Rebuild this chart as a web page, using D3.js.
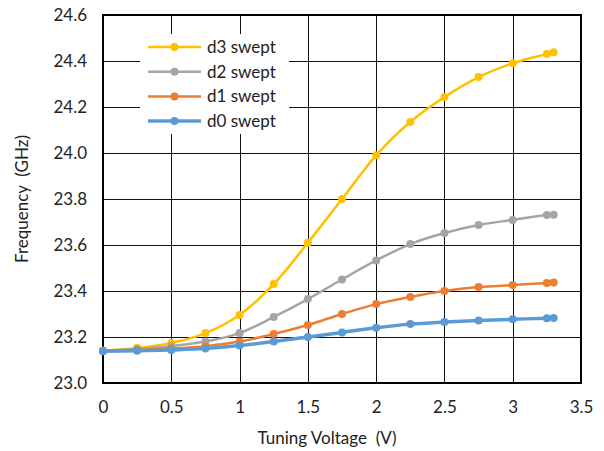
<!DOCTYPE html>
<html>
<head>
<meta charset="utf-8">
<script src="https://cdn.jsdelivr.net/npm/d3@7"></script>
<style>
  body { margin: 0; background: #fff; }
  text { font-family: Lato, "Open Sans", sans-serif; fill: #222; white-space: pre; }
</style>
</head>
<body>
<div id="chart"></div>
<script>
// Tuning voltage (V)
const voltage = [0, 0.25, 0.5, 0.75, 1, 1.25, 1.5, 1.75, 2, 2.25, 2.5, 2.75, 3, 3.25, 3.3];

// Frequency (GHz) per swept series
const d3Swept = [23.14, 23.152, 23.174, 23.217, 23.296, 23.43, 23.61, 23.80, 23.99, 24.135, 24.243, 24.33, 24.39, 24.43, 24.438];
const d2Swept = [23.14, 23.148, 23.16, 23.18, 23.217, 23.287, 23.365, 23.45, 23.533, 23.604, 23.652, 23.687, 23.709, 23.73, 23.731];
const d1Swept = [23.14, 23.143, 23.15, 23.16, 23.18, 23.213, 23.252, 23.30, 23.343, 23.374, 23.40, 23.417, 23.426, 23.435, 23.437];
const d0Swept = [23.138, 23.14, 23.144, 23.15, 23.163, 23.18, 23.20, 23.22, 23.24, 23.256, 23.265, 23.272, 23.277, 23.282, 23.283];

const xTicks = [0, 0.5, 1, 1.5, 2, 2.5, 3, 3.5];
const yTicks = [23.0, 23.2, 23.4, 23.6, 23.8, 24.0, 24.2, 24.4, 24.6];

// drawn in this order, legend lists the same order
const series = [
    { name: "d3 swept", values: d3Swept, color: "#FFC000", width: 2.5 },
    { name: "d2 swept", values: d2Swept, color: "#A5A5A5", width: 2.5 },
    { name: "d1 swept", values: d1Swept, color: "#ED7D31", width: 2.5 },
    { name: "d0 swept", values: d0Swept, color: "#5B9BD5", width: 3.5 }
];

const width = 604;
const height = 451;
const margin = { top: 15, right: 23, bottom: 68, left: 103 };
const fontSize = "17px";

const svg = d3.select("#chart")
    .append("svg")
    .attr("width", width)
    .attr("height", height);

const x = d3.scaleLinear()
    .domain([0, 3.5])
    .range([margin.left, width - margin.right]);

const y = d3.scaleLinear()
    .domain([23.0, 24.6])
    .range([height - margin.bottom, margin.top]);

// Grid
svg.append("g")
    .selectAll("line")
    .data(yTicks)
    .enter().append("line")
    .attr("x1", x(0)).attr("x2", x(3.5))
    .attr("y1", d => Math.round(y(d)) + 0.5)
    .attr("y2", d => Math.round(y(d)) + 0.5)
    .attr("stroke", "#111")
    .attr("stroke-width", 1);

svg.append("g")
    .selectAll("line")
    .data(xTicks)
    .enter().append("line")
    .attr("x1", d => Math.round(x(d)) + 0.5)
    .attr("x2", d => Math.round(x(d)) + 0.5)
    .attr("y1", y(23.0)).attr("y2", y(24.6))
    .attr("stroke", "#111")
    .attr("stroke-width", 1);

// Frame
svg.append("rect")
    .attr("x", x(0))
    .attr("y", y(24.6))
    .attr("width", x(3.5) - x(0))
    .attr("height", y(23.0) - y(24.6))
    .attr("fill", "none")
    .attr("stroke", "#000")
    .attr("stroke-width", 2);

// Tick labels via d3 axes, domain hidden
const xAxis = svg.append("g")
    .attr("transform", `translate(0, ${y(23.0)})`)
    .call(d3.axisBottom(x).tickValues(xTicks).tickSize(0).tickPadding(18).tickFormat(d3.format("")));
const yAxis = svg.append("g")
    .attr("transform", `translate(${x(0)}, 0)`)
    .call(d3.axisLeft(y).tickValues(yTicks).tickSize(0).tickPadding(16).tickFormat(d3.format(".1f")));

[xAxis, yAxis].forEach(a => {
    a.select(".domain").remove();
    a.selectAll("text")
        .style("font-family", "Lato, 'Open Sans', sans-serif")
        .style("font-size", fontSize)
        .attr("fill", "#222");
});

svg.append("text")
    .attr("x", 327)
    .attr("y", 444)
    .attr("text-anchor", "middle")
    .style("font-size", fontSize)
    .text("Tuning Voltage  (V)");

svg.append("text")
    .attr("transform", `translate(28, ${(y(23.0) + y(24.6)) / 2}) rotate(-90)`)
    .attr("text-anchor", "middle")
    .style("font-size", fontSize)
    .text("Frequency  (GHz)");

// Lines
const line = d3.line()
    .x((d, i) => x(voltage[i]))
    .y(d => y(d))
    .curve(d3.curveCatmullRom.alpha(0.5));

const plot = svg.append("g");

series.forEach(s => {
    plot.append("path")
        .datum(s.values)
        .attr("d", line)
        .attr("fill", "none")
        .attr("stroke", s.color)
        .attr("stroke-width", s.width)
        .attr("stroke-linejoin", "round");

    plot.selectAll(null)
        .data(s.values)
        .enter().append("circle")
        .attr("cx", (d, i) => x(voltage[i]))
        .attr("cy", d => y(d))
        .attr("r", 4)
        .attr("fill", s.color);
});

// Legend
const legend = svg.append("g");
legend.append("rect")
    .attr("x", 140).attr("y", 34)
    .attr("width", 149).attr("height", 100)
    .attr("fill", "#fff");

const item = legend.selectAll("g")
    .data(series)
    .enter().append("g")
    .attr("transform", (d, i) => `translate(148, ${47 + i * 24.7})`);

item.append("line")
    .attr("x1", 0).attr("x2", 53)
    .attr("stroke", d => d.color)
    .attr("stroke-width", d => d.width);

item.append("circle")
    .attr("cx", 26.5)
    .attr("r", 4)
    .attr("fill", d => d.color);

item.append("text")
    .attr("x", 59)
    .attr("dy", "0.35em")
    .style("font-size", fontSize)
    .text(d => d.name);
</script>
</body>
</html>
